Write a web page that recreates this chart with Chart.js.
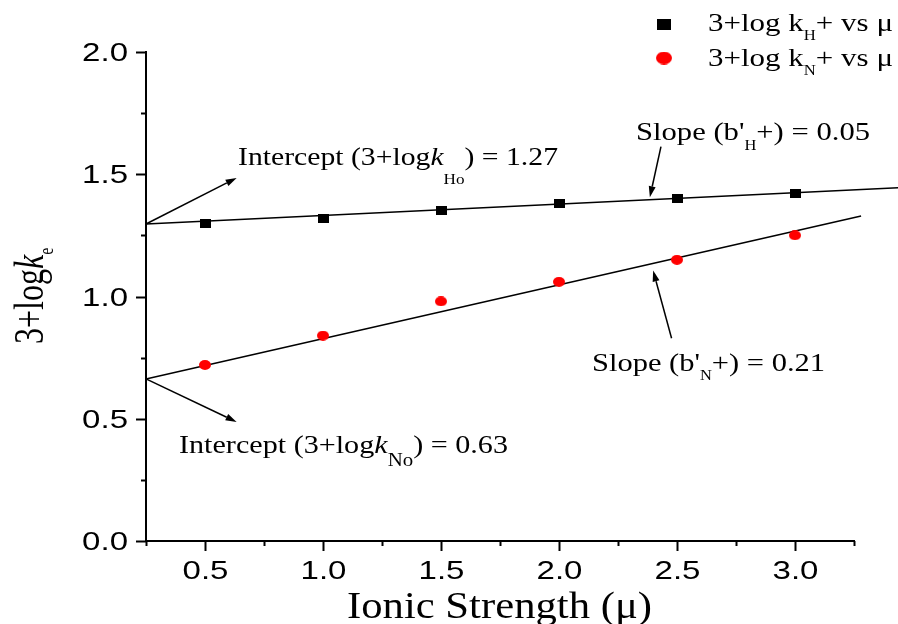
<!DOCTYPE html>
<html>
<head>
<meta charset="utf-8">
<script src="https://cdn.jsdelivr.net/npm/chart.js@4.4.1/dist/chart.umd.min.js"></script>
<style>
  html, body { margin: 0; padding: 0; background: #fff; }
  canvas { display: block; }
</style>
</head>
<body>
<canvas id="chart" width="898" height="624"></canvas>
<script>
// values
const ionicStrength = [0.5, 1.0, 1.5, 2.0, 2.5, 3.0];
const logKH = [1.30, 1.32, 1.35, 1.38, 1.40, 1.42];
const logKN = [0.72, 0.84, 0.98, 1.06, 1.15, 1.25];
// end points of the two fitted lines
const fitHx = [0.25, 3.44];
const fitHy = [1.297, 1.445];
const fitNx = [0.25, 3.28];
const fitNy = [0.663, 1.329];
const xRange = [0.25, 3.25];
const yRange = [0, 2];
const tickStep = 0.25;

const SERIF = '"Liberation Serif", "Times New Roman", serif';
const SANS = '"Liberation Sans", Arial, sans-serif';

const toPoints = (xs, ys) => xs.map((x, i) => ({ x, y: ys[i] }));

function marker(shape, w, h, color) {
  const c = document.createElement('canvas');
  c.width = w;
  c.height = h;
  const g = c.getContext('2d');
  g.fillStyle = color;
  if (shape === 'rect') {
    g.fillRect(0, 0, w, h);
  } else {
    g.beginPath();
    g.ellipse(w / 2, h / 2, w / 2, h / 2, 0, 0, Math.PI * 2);
    g.fill();
  }
  return c;
}

const squareMark = marker('rect', 11, 9, '#000');
const dotMark = marker('ellipse', 12, 10, '#ff0000');

// parts: plain string, or [text, 'i'] italic, or [text, 'sub'] subscript
function richText(ctx, note) {
  const fontOf = p => {
    if (Array.isArray(p) && p[1] === 'sub') return `${note.subSize}px ${SERIF}`;
    if (Array.isArray(p) && p[1] === 'i') return `italic ${note.size}px ${SERIF}`;
    return `${note.size}px ${SERIF}`;
  };
  const textOf = p => (Array.isArray(p) ? p[0] : p);
  let total = 0;
  for (const p of note.parts) {
    ctx.font = fontOf(p);
    total += ctx.measureText(textOf(p)).width;
  }
  const sx = note.stretch || (note.width ? note.width / total : 1);
  ctx.save();
  ctx.translate(note.x, note.y);
  ctx.scale(sx, 1);
  if (note.rotate) ctx.rotate(-Math.PI / 2);
  ctx.textAlign = 'left';
  ctx.textBaseline = 'alphabetic';
  ctx.fillStyle = '#000';
  let cx = 0;
  for (const p of note.parts) {
    ctx.font = fontOf(p);
    const t = textOf(p);
    const dy = Array.isArray(p) && p[1] === 'sub' ? note.shift : 0;
    ctx.fillText(t, cx, dy);
    cx += ctx.measureText(t).width;
  }
  ctx.restore();
}

const notes = [
  { x: 238, y: 165, size: 26, subSize: 15, shift: 19, width: 320,
    parts: ['Intercept (3+log', ['k', 'i'], ['Ho', 'sub'], ') = 1.27'] },
  { x: 179, y: 453, size: 26, subSize: 18, shift: 13, width: 329,
    parts: ['Intercept (3+log', ['k', 'i'], ['No', 'sub'], ') = 0.63'] },
  { x: 636, y: 140, size: 26, subSize: 14, shift: 10, width: 234,
    parts: ["Slope (b'", ['H', 'sub'], '+) = 0.05'] },
  { x: 592, y: 371, size: 26, subSize: 14, shift: 9, width: 233,
    parts: ["Slope (b'", ['N', 'sub'], '+) = 0.21'] },
  { x: 708, y: 31, size: 26, subSize: 14, shift: 9, width: 185,
    parts: ['3+log k', ['H', 'sub'], '+ vs \u03bc'] },
  { x: 708, y: 66, size: 26, subSize: 14, shift: 9, width: 185,
    parts: ['3+log k', ['N', 'sub'], '+ vs \u03bc'] },
  { x: 347, y: 618, size: 37, width: 305,
    parts: ['Ionic Strength (\u03bc)'] },
  { x: 43, y: 344, size: 32, subSize: 16, shift: 8, stretch: 1.3, rotate: true,
    parts: ['3+log', ['k', 'i'], ['e', 'sub']] }
];

// arrows in data units: from -> to (head at "to")
const arrows = [
  { from: [0.25, 1.2965], to: [0.634, 1.485] },
  { from: [0.25, 0.663], to: [0.634, 0.487] },
  { from: [2.432, 1.613], to: [2.385, 1.406] },
  { from: [2.477, 0.829], to: [2.399, 1.106] }
];

const legendMarks = [
  { img: marker('rect', 14, 11, '#000'), x: 664, y: 24 },
  { img: marker('ellipse', 16, 13, '#ff0000'), x: 664, y: 58 }
];

const isMajor = v => Math.abs(v * 2 - Math.round(v * 2)) < 1e-6;

const decorPlugin = {
  id: 'decor',
  afterDraw(chart) {
    const { ctx, chartArea: area, scales: { x, y } } = chart;
    ctx.save();
    ctx.strokeStyle = '#000';
    ctx.fillStyle = '#000';
    ctx.lineWidth = 2;

    // tick marks + labels
    ctx.font = `26px ${SANS}`;
    ctx.textBaseline = 'middle';
    ctx.textAlign = 'right';
    for (const t of y.ticks) {
      const py = Math.round(y.getPixelForValue(t.value)) + 0.5;
      const len = isMajor(t.value) ? 10 : 5;
      ctx.beginPath();
      ctx.moveTo(area.left - len, py);
      ctx.lineTo(area.left, py);
      ctx.stroke();
      if (isMajor(t.value)) {
        ctx.save();
        ctx.translate(area.left - 18, py);
        ctx.scale(1.27, 1);
        ctx.fillText(t.value.toFixed(1), 0, 1);
        ctx.restore();
      }
    }
    ctx.textAlign = 'center';
    ctx.textBaseline = 'alphabetic';
    for (const t of x.ticks) {
      const px = Math.round(x.getPixelForValue(t.value)) + 0.5;
      const len = isMajor(t.value) ? 10 : 5;
      ctx.beginPath();
      ctx.moveTo(px, area.bottom);
      ctx.lineTo(px, area.bottom + len);
      ctx.stroke();
      if (isMajor(t.value)) {
        ctx.save();
        ctx.translate(px, area.bottom + 38);
        ctx.scale(1.27, 1);
        ctx.fillText(t.value.toFixed(1), 0, 0);
        ctx.restore();
      }
    }

    // arrows
    ctx.lineWidth = 1.5;
    for (const a of arrows) {
      const x1 = x.getPixelForValue(a.from[0]);
      const y1 = y.getPixelForValue(a.from[1]);
      const x2 = x.getPixelForValue(a.to[0]);
      const y2 = y.getPixelForValue(a.to[1]);
      const ang = Math.atan2(y2 - y1, x2 - x1);
      const head = 11;
      const half = 3.5;
      const bx = x2 - head * Math.cos(ang);
      const by = y2 - head * Math.sin(ang);
      ctx.beginPath();
      ctx.moveTo(x1, y1);
      ctx.lineTo(bx, by);
      ctx.stroke();
      ctx.beginPath();
      ctx.moveTo(x2, y2);
      ctx.lineTo(bx + half * Math.sin(ang), by - half * Math.cos(ang));
      ctx.lineTo(bx - half * Math.sin(ang), by + half * Math.cos(ang));
      ctx.closePath();
      ctx.fill();
    }

    // legend markers and all the serif text
    for (const m of legendMarks) {
      ctx.drawImage(m.img, m.x - m.img.width / 2, m.y - m.img.height / 2);
    }
    for (const n of notes) richText(ctx, n);
    ctx.restore();
  }
};

const axisOpts = (range, fit) => ({
  type: 'linear',
  min: range[0],
  max: range[1],
  ticks: { display: false, stepSize: tickStep },
  grid: { display: false },
  border: { display: true, color: '#000', width: 2 },
  afterFit: fit
});

new Chart(document.getElementById('chart'), {
  type: 'scatter',
  data: {
    datasets: [
      {
        label: '3+log kH+ vs \u03bc',
        data: toPoints(ionicStrength, logKH),
        pointStyle: squareMark,
        order: 0
      },
      {
        label: '3+log kN+ vs \u03bc',
        data: toPoints(ionicStrength, logKN),
        pointStyle: dotMark,
        order: 1
      },
      {
        label: 'fit H',
        data: toPoints(fitHx, fitHy),
        showLine: true,
        borderColor: '#000',
        borderWidth: 1.5,
        pointRadius: 0,
        clip: false,
        order: 2
      },
      {
        label: 'fit N',
        data: toPoints(fitNx, fitNy),
        showLine: true,
        borderColor: '#000',
        borderWidth: 1.5,
        pointRadius: 0,
        clip: false,
        order: 3
      }
    ]
  },
  options: {
    responsive: false,
    devicePixelRatio: 1,
    animation: false,
    layout: { padding: { left: 0, top: 52, right: 44, bottom: 0 } },
    plugins: {
      legend: { display: false },
      tooltip: { enabled: false }
    },
    scales: {
      x: axisOpts(xRange, s => { s.height = 83; }),
      y: axisOpts(yRange, s => { s.width = 146; })
    }
  },
  plugins: [decorPlugin]
});
</script>
</body>
</html>
